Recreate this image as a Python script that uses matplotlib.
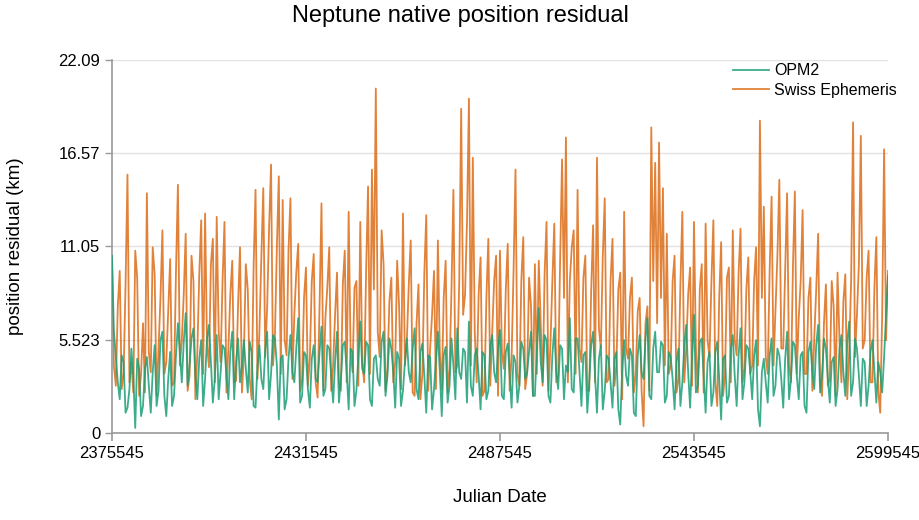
import numpy as np
import matplotlib.pyplot as plt

plt.rcParams['font.family'] = ['Liberation Sans', 'DejaVu Sans']

# Julian date axis: first day, step between samples
jd_start = 2375545
jd_step = 560

# Swiss Ephemeris residual (km), samples on even steps
swiss = [
    10.5, 2.8, 9.6, 3.5, 15.3, 4.2, 10.8, 2.2, 6.5, 14.2,
    3.6, 9.4, 5.0, 12.0, 4.2, 10.3, 3.0, 14.7, 5.5, 11.8,
    3.4, 9.0, 4.8, 12.6, 13.0, 3.9, 11.5, 12.8, 4.2, 12.5,
    5.0, 10.2, 3.1, 11.0, 4.6, 8.5, 2.0, 14.4, 6.0, 14.5,
    7.5, 15.9, 5.8, 15.2, 13.8, 4.6, 13.9, 7.0, 11.2, 3.2,
    9.8, 4.4, 10.6, 2.1, 13.6, 6.8, 11.0, 4.0, 9.5, 2.5,
    10.8, 13.1, 3.6, 9.0, 12.5, 3.0, 14.6, 15.6, 20.4, 4.5,
    10.0, 3.8, 9.2, 4.2, 7.5, 13.0, 5.5, 11.4, 2.2, 8.8,
    3.5, 12.9, 5.0, 9.6, 11.4, 2.6, 10.2, 3.8, 14.4, 4.0,
    19.2, 8.2, 19.8, 16.3, 3.0, 10.4, 2.5, 11.5, 6.0, 10.5,
    10.8, 3.8, 11.2, 4.5, 15.6, 2.8, 11.6, 3.5, 7.5, 10.0,
    10.2, 2.8, 12.5, 5.2, 12.4, 3.4, 16.2, 17.5, 9.0, 12.0,
    14.4, 4.2, 10.5, 2.5, 12.3, 16.3, 5.0, 13.9, 3.2, 11.5,
    4.0, 9.5, 13.1, 4.4, 9.2, 3.5, 8.0, 0.4, 7.5, 18.1,
    16.0, 17.2, 14.5, 11.8, 4.0, 10.5, 3.2, 13.1, 5.0, 9.8,
    12.5, 2.4, 10.0, 12.4, 4.5, 12.6, 1.6, 11.3, 3.5, 9.8,
    12.0, 4.6, 12.1, 3.8, 10.4, 4.0, 11.0, 18.5, 13.4, 3.5,
    14.0, 7.2, 15.0, 5.0, 14.2, 3.0, 14.3, 6.8, 13.2, 3.5,
    9.2, 5.6, 11.8, 2.2, 8.8, 3.2, 7.5, 9.5, 3.0, 9.4,
    4.8, 18.4, 7.0, 17.6, 5.5, 10.8, 3.0, 11.6, 1.2, 16.8,
    9.6,
]

# Swiss Ephemeris residual (km), samples on odd steps
swiss_mid = [
    4.0, 7.5, 2.6, 8.8, 3.0, 2.4, 9.2, 3.5, 2.4, 4.8,
    11.0, 2.2, 8.0, 3.5, 7.2, 2.8, 9.6, 4.0, 8.2, 2.5,
    10.5, 2.0, 9.4, 3.5, 5.2, 10.0, 3.0, 6.0, 9.0, 2.4,
    8.2, 3.0, 7.6, 2.4, 10.0, 3.2, 9.8, 3.2, 10.4, 4.5,
    12.2, 4.0, 11.0, 3.5, 5.5, 10.8, 3.2, 9.5, 2.5, 8.0,
    2.8, 9.0, 3.0, 7.5, 2.5, 8.6, 2.5, 7.0, 3.0, 8.8,
    3.0, 4.8, 8.6, 2.8, 4.2, 9.6, 3.5, 8.5, 6.0, 12.0,
    2.5, 7.8, 3.0, 10.2, 2.6, 4.0, 8.8, 2.4, 6.5, 2.0,
    9.4, 2.5, 7.0, 2.6, 4.8, 8.0, 2.4, 8.5, 3.6, 9.0,
    7.0, 12.5, 4.0, 6.0, 8.2, 2.2, 8.0, 2.8, 9.0, 2.2,
    4.8, 8.5, 2.5, 9.6, 3.5, 9.0, 2.6, 9.2, 2.2, 3.5,
    6.5, 9.4, 2.5, 9.0, 3.0, 10.2, 8.0, 3.0, 11.0, 3.5,
    5.0, 9.2, 2.5, 8.4, 3.0, 6.2, 10.5, 3.0, 9.0, 2.8,
    8.5, 2.0, 5.0, 8.0, 2.4, 7.2, 2.5, 6.5, 2.5, 9.0,
    6.5, 8.0, 4.0, 3.5, 9.0, 2.4, 8.8, 3.0, 8.2, 2.8,
    5.0, 8.5, 2.4, 5.5, 9.0, 3.0, 8.0, 2.2, 9.2, 3.0,
    5.5, 9.5, 3.0, 8.5, 3.5, 9.0, 4.0, 8.0, 4.5, 9.6,
    4.0, 10.5, 5.0, 9.5, 4.0, 9.8, 3.5, 9.0, 3.5, 8.0,
    2.5, 8.5, 3.0, 6.5, 2.8, 9.0, 2.2, 5.5, 7.8, 2.0,
    9.0, 4.5, 10.0, 5.0, 9.2, 3.0, 8.6, 2.5, 7.0, 5.5,
]

# OPM2 residual (km), samples on even steps
opm2 = [
    10.5, 4.5, 2.0, 4.2, 1.5, 5.0, 0.3, 3.8, 1.6, 4.5,
    1.2, 5.2, 2.5, 6.0, 1.0, 4.8, 2.2, 6.5, 3.0, 7.1,
    4.0, 6.2, 2.0, 5.5, 3.2, 6.4, 1.8, 5.8, 3.6, 5.0,
    2.0, 6.0, 4.2, 3.0, 5.5, 2.4, 4.8, 1.5, 5.2, 2.6,
    6.0, 3.5, 5.6, 0.8, 4.6, 2.0, 5.8, 3.0, 6.8, 2.2,
    4.6, 1.5, 5.2, 3.0, 6.3, 2.6, 5.0, 1.8, 6.0, 3.2,
    5.4, 1.4, 4.8, 2.5, 6.6, 3.5, 5.2, 1.6, 4.6, 2.8,
    6.0, 3.4, 5.0, 1.5, 4.4, 2.5, 5.6, 3.0, 6.2, 2.0,
    5.3, 1.2, 4.5, 2.6, 6.0, 1.0, 5.1, 2.8, 4.0, 6.2,
    3.2, 4.8, 6.6, 2.2, 5.0, 1.4, 4.6, 2.5, 5.8, 3.0,
    6.1, 2.0, 5.3, 1.5, 4.2, 2.8, 5.0, 3.6, 6.0, 2.2,
    7.4, 3.0, 5.5, 1.8, 6.2, 2.6, 5.0, 4.0, 6.8, 2.4,
    5.6, 1.6, 4.8, 3.0, 6.0, 1.2, 5.2, 2.5, 4.4, 1.5,
    4.8, 0.5, 5.5, 2.8, 4.6, 1.0, 5.8, 3.2, 6.8, 2.0,
    6.0, 3.6, 5.2, 2.2, 4.5, 1.4, 5.0, 3.0, 6.4, 1.5,
    7.0, 2.8, 5.6, 1.2, 4.8, 2.4, 5.4, 0.8, 4.6, 2.2,
    5.8, 1.6, 6.2, 3.0, 5.0, 2.0, 5.5, 0.4, 4.4, 1.8,
    5.6, 2.8, 4.6, 1.5, 6.0, 3.2, 5.2, 2.0, 4.8, 1.2,
    5.4, 2.6, 6.4, 3.4, 5.0, 1.8, 4.5, 2.6, 5.8, 2.2,
    6.6, 3.0, 5.0, 1.6, 4.2, 2.8, 5.5, 1.8, 3.6, 4.5,
    9.3,
]

# OPM2 residual (km), samples on odd steps
opm2_mid = [
    6.0, 3.0, 4.6, 1.2, 2.6, 3.4, 4.4, 1.0, 3.8, 2.8,
    3.6, 1.6, 5.5, 2.2, 3.2, 1.6, 4.6, 4.8, 5.4, 2.8,
    5.6, 3.4, 4.4, 1.6, 5.6, 4.2, 3.2, 2.0, 5.2, 3.4,
    4.8, 2.0, 5.6, 4.0, 3.8, 5.4, 1.6, 4.0, 3.2, 5.0,
    2.0, 5.8, 4.0, 4.4, 1.4, 4.4, 3.6, 5.0, 1.8, 4.8,
    2.6, 4.4, 3.2, 4.8, 2.2, 5.2, 3.4, 4.2, 1.8, 5.2,
    3.6, 5.0, 1.6, 4.6, 3.8, 5.4, 2.0, 4.4, 3.2, 5.4,
    2.2, 5.6, 3.6, 4.8, 1.6, 4.2, 3.6, 5.0, 2.6, 4.8,
    3.4, 4.6, 1.4, 4.4, 3.6, 4.6, 1.8, 5.6, 2.0, 3.6,
    5.0, 1.8, 2.8, 4.6, 3.4, 4.8, 2.0, 5.2, 3.6, 5.0,
    2.2, 4.8, 3.4, 4.6, 1.8, 5.4, 3.2, 4.8, 2.2, 5.0,
    4.2, 5.8, 2.2, 4.6, 3.6, 5.2, 2.0, 3.6, 2.6, 5.6,
    3.6, 4.6, 1.2, 5.2, 3.4, 4.4, 1.4, 4.6, 3.0, 4.4,
    1.4, 3.8, 3.4, 5.0, 1.2, 4.6, 3.6, 5.6, 2.2, 5.0,
    3.6, 5.4, 1.8, 4.8, 3.2, 4.2, 1.6, 5.2, 3.6, 4.6,
    2.4, 5.4, 3.4, 4.2, 1.6, 4.8, 3.2, 4.4, 1.8, 5.0,
    3.4, 4.6, 2.0, 5.2, 3.6, 4.6, 1.4, 3.6, 3.0, 4.6,
    2.2, 5.0, 3.2, 4.4, 2.0, 5.4, 3.4, 4.6, 1.6, 4.8,
    3.6, 5.2, 2.4, 5.6, 3.2, 4.2, 1.6, 5.0, 3.6, 5.4,
    2.2, 5.6, 3.4, 4.4, 1.6, 4.8, 3.6, 4.2, 2.4, 7.0,
]

x_ticks = [2375545, 2431545, 2487545, 2543545, 2599545]
y_ticks = [0, 5.523, 11.05, 16.57, 22.09]
y_labels = ['0', '5.523', '11.05', '16.57', '22.09']

# merge even and odd samples into one series each
swiss_all = np.empty(len(swiss) + len(swiss_mid))
swiss_all[0::2] = swiss
swiss_all[1::2] = swiss_mid
opm2_all = np.empty(len(opm2) + len(opm2_mid))
opm2_all[0::2] = opm2
opm2_all[1::2] = opm2_mid
jd = jd_start + jd_step * np.arange(len(swiss_all))

fig = plt.figure(figsize=(9.2, 5.2), dpi=100)
ax = fig.add_axes([0.1217, 0.1673, 0.8435, 0.7173])

ax.plot(jd, opm2_all, color='#1b9e77', alpha=0.85, lw=1.3, label='OPM2', zorder=3)
ax.plot(jd, swiss_all, color='#d95f02', alpha=0.78, lw=1.3, label='Swiss Ephemeris', zorder=2)

ax.set_xlim(x_ticks[0], x_ticks[-1])
ax.set_ylim(0, 22.09)
ax.set_xticks(x_ticks)
ax.set_xticklabels([str(t) for t in x_ticks], fontsize=12)
ax.set_yticks(y_ticks)
ax.set_yticklabels(y_labels, fontsize=12)
ax.grid(axis='y', color='#e2e2e2', lw=1)
ax.set_axisbelow(True)

for s in ['top', 'right']:
    ax.spines[s].set_visible(False)
for s in ['left', 'bottom']:
    ax.spines[s].set_color('#999999')
    ax.spines[s].set_linewidth(1.2)
ax.tick_params(axis='x', colors='#999999', length=6, width=1.2, labelcolor='black')
ax.tick_params(axis='y', colors='#999999', length=5, width=1, labelcolor='black')

ax.set_xlabel('Julian Date', fontsize=13.5, labelpad=20)
ax.set_ylabel('position residual (km)', fontsize=13.5, labelpad=25)
fig.suptitle('Neptune native position residual', fontsize=17, y=0.99)

ax.legend(loc='upper right', bbox_to_anchor=(1.03, 1.03), frameon=False, fontsize=11.5,
          handlelength=2.2, handletextpad=0.35, labelspacing=0.3)

fig.savefig('out.png', dpi=100)
